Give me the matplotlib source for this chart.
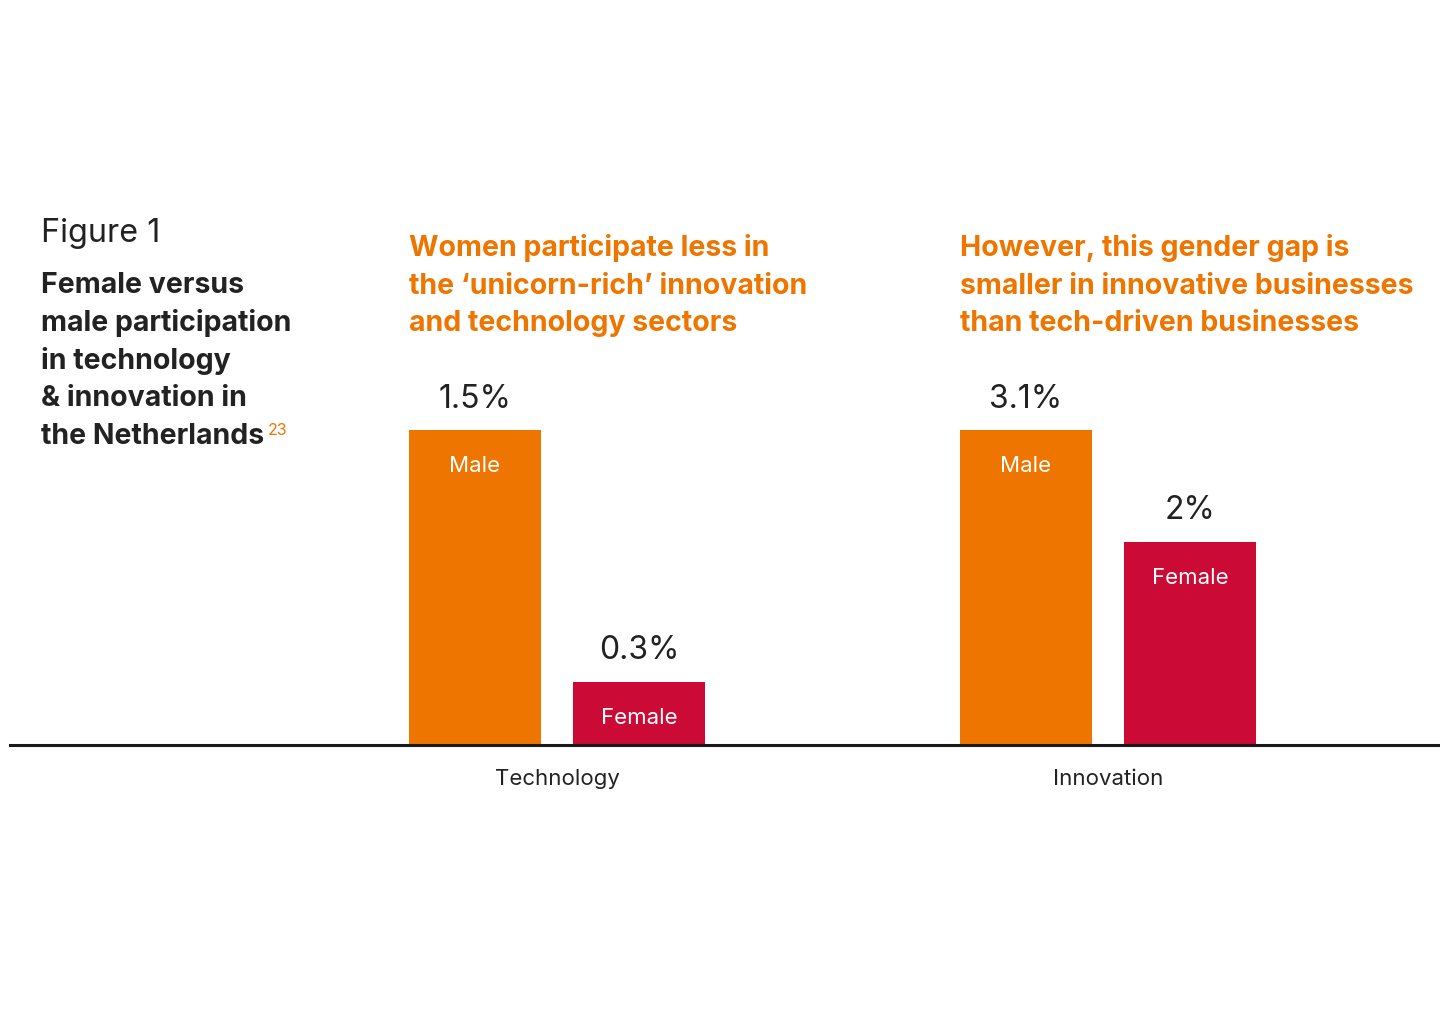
import matplotlib
matplotlib.use("Agg")
import matplotlib.pyplot as plt
import numpy as np

# ---- data ---------------------------------------------------------------
groups   = ["Technology", "Innovation"]
male     = [1.5, 3.1]
female   = [0.3, 2.0]
val_lbls_m = ["1.5%", "3.1%"]
val_lbls_f = ["0.3%", "2%"]
title_lines = ["Female versus", "male participation", "in technology",
               "& innovation in", "the Netherlands"]
headings = [
    "Women participate less in\nthe \u2018unicorn-rich\u2019 innovation\nand technology sectors",
    "However, this gender gap is\nsmaller in innovative businesses\nthan tech-driven businesses",
]

ORANGE = "#EE7500"
CRIMSON = "#CC0A36"
DARK = "#222222"
FONT = "Inter"

W, H = 1440, 1020
fig = plt.figure(figsize=(W / 100, H / 100), dpi=100)
fig.patch.set_facecolor("white")

def fx(px):
    return px / W

def fy(py):
    return 1 - py / H

# axes: baseline at y~745 px, full bar height ~314 px
ax = fig.add_axes([fx(10), fy(745.5), fx(1430), 314.5 / H])
gap = 551.0
ax.set_xlim((10 - 557) / gap, (1440 - 557) / gap)
ax.set_ylim(0, 1)

x = np.arange(len(groups))
bw = 132 / gap
off = 82 / gap

# each group scaled to its own male value
male_h = np.array(male) / np.array(male)
fem_h = np.array(female) / np.array(male)

bm = ax.bar(x - off, male_h, width=bw, color=ORANGE, linewidth=0)
bf = ax.bar(x + off, fem_h, width=bw, color=CRIMSON, linewidth=0)

for bars, vl, name in [(bm, val_lbls_m, "Male"), (bf, val_lbls_f, "Female")]:
    for b, v in zip(bars, vl):
        cx = b.get_x() + b.get_width() / 2
        top = b.get_height()
        ax.annotate(v, (cx, top), xytext=(0, 23), textcoords="offset points",
                    ha="center", va="center", fontsize=23, color=DARK,
                    family=FONT, annotation_clip=False)
        ax.annotate(name, (cx, top), xytext=(0, -25.5), textcoords="offset points",
                    ha="center", va="center", fontsize=16, color="white",
                    family=FONT, annotation_clip=False)

for s in ["top", "left", "right"]:
    ax.spines[s].set_visible(False)
ax.spines["bottom"].set_linewidth(2.2)
ax.spines["bottom"].set_color("#1a1a1a")
ax.set_yticks([])
ax.set_xticks(x)
ax.set_xticklabels(groups, fontsize=16, color=DARK, family=FONT)
ax.tick_params(axis="x", length=0, pad=17)
ax.patch.set_alpha(0)

# ---- text blocks ---------------------------------------------------------
fig.text(fx(41), fy(242), "Figure 1", fontsize=23.3, color=DARK, family=FONT,
         ha="left", va="baseline")
for i, line in enumerate(title_lines):
    fig.text(fx(41), fy(293 + i * 37.8), line, fontsize=20.5, fontweight="bold",
             color=DARK, family=FONT, ha="left", va="baseline")
fig.text(fx(268), fy(435), "23", fontsize=11.5, color=ORANGE, family=FONT,
         ha="left", va="baseline")

for i, txt in enumerate(headings):
    left = bm[i].get_x()
    xpix = ax.transData.transform((left, 0))[0]
    # multi-line baseline alignment refers to the last line
    fig.text(xpix / W, fy(331), txt, fontsize=20.5, fontweight="bold",
             color=ORANGE, family=FONT, ha="left", va="baseline",
             linespacing=1.49)

fig.savefig("out.png", dpi=100, facecolor="white")
